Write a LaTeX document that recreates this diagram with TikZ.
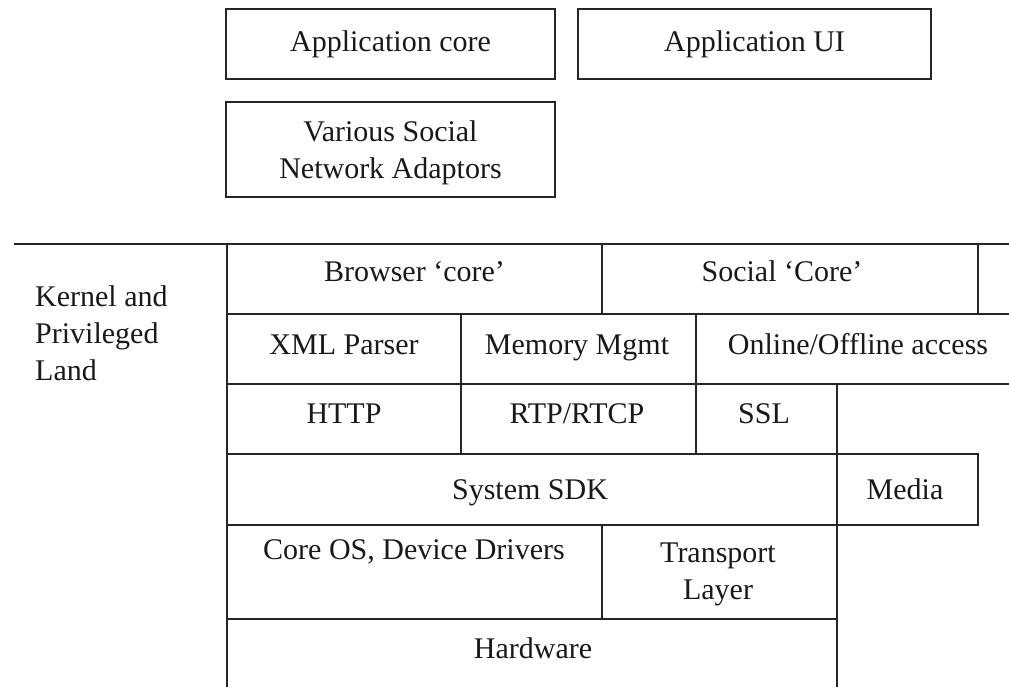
\documentclass[tikz,border=0pt]{standalone}
\usepackage{fontspec}
\setmainfont{Liberation Serif}

\begin{document}
\begin{tikzpicture}[x=1pt, y=-1pt,
    every node/.style={font=\fontsize{30}{37}\selectfont, text=black!90, inner sep=0pt},
    rule/.style={line width=1.6pt, draw=black!85, line cap=rect},
    cell/.style={text height=20pt, text depth=6.5pt},
    appbox/.style={rule, draw, minimum width=329pt, minimum height=70pt, align=center}]
    \useasboundingbox (0,0) rectangle (1009,687);
    % application layer
    \node[appbox] (appcore) at (390.5,44) {Application core};
    \node[appbox, minimum width=353pt] (appui) at (754.5,44) {Application UI};
    \node[appbox, minimum height=95pt, text depth=0pt] (adaptors) at (390.5,149.5) {Various Social\\Network Adaptors};
    % kernel stack grid
    \foreach \y/\xa/\xb in {244/15/1009, 314/227/1009, 384/227/1009, 454/227/978, 525/227/978, 619/227/837}
        \draw[rule] (\xa,\y) -- (\xb,\y);
    \foreach \x/\ya/\yb in {227/244/687, 602/244/314, 978/244/314, 461/314/454, 696/314/454, 837/384/687, 978/454/525, 602/525/619}
        \draw[rule] (\x,\ya) -- (\x,\yb);
    % cell texts
    \node[align=left, anchor=west] (kernel) at (35,333) {Kernel and\\Privileged\\Land};
    \node[cell] (browser) at (414.5,275) {Browser ‘core’};
    \node[cell] (social) at (782,275) {Social ‘Core’};
    \node[cell] (xml) at (344,348) {XML Parser};
    \node[cell] (memory) at (577,348) {Memory Mgmt};
    \node[cell] (online) at (858,348) {Online/Offline access};
    \node[cell] (http) at (344,417) {HTTP};
    \node[cell] (rtp) at (577,417) {RTP/RTCP};
    \node[cell] (ssl) at (764,417) {SSL};
    \node[cell] (sdk) at (530,493) {System SDK};
    \node[cell] (media) at (905,493) {Media};
    \node[cell] (coreos) at (414,553) {Core OS, Device Drivers};
    \node[align=center] (transport) at (718,574) {Transport\\Layer};
    \node[cell] (hardware) at (533,652) {Hardware};
\end{tikzpicture}
\end{document}
